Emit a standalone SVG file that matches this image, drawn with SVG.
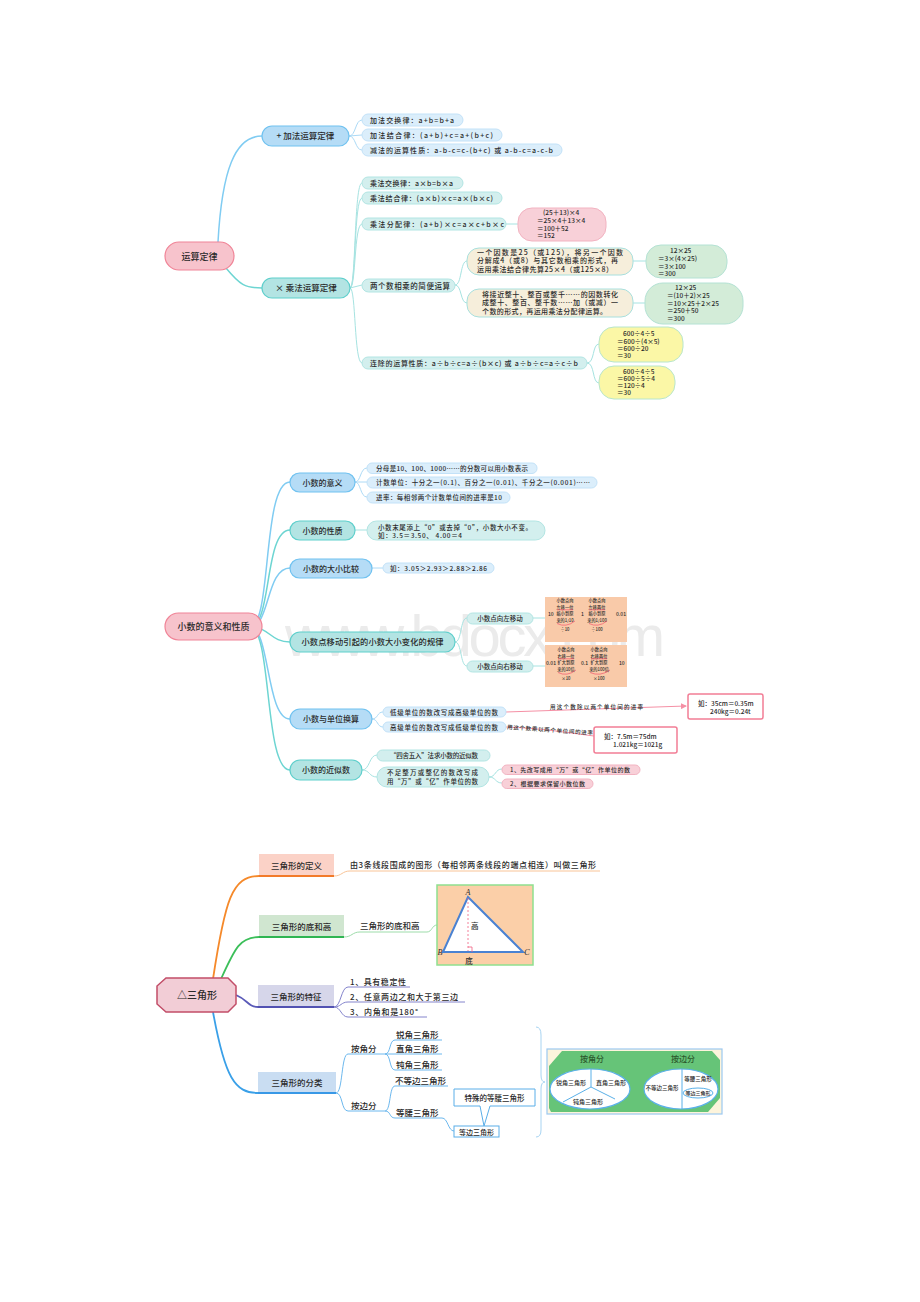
<svg xmlns="http://www.w3.org/2000/svg" width="920" height="1302" viewBox="0 0 920 1302">
<defs>
<style>
text{font-family:"Noto Sans CJK SC","Noto Sans",sans-serif;fill:#2a2a2a;font-weight:500}
.c{text-anchor:middle}
.bn{fill:#b5dcf6;stroke:#70c2f0;stroke-width:1.2}
.tn{fill:#b3e4e3;stroke:#5fcfcc;stroke-width:1.2}
.rn{fill:#f7c3cc;stroke:#f08497;stroke-width:1.2}
.bl{fill:#dbeefb;stroke:#c3e2f8;stroke-width:1}
.tl{fill:#d3efee;stroke:#b2e5e3;stroke-width:1}
.pk{fill:#f8d0d8;stroke:#f2b3c1;stroke-width:1}
.bg{fill:#f6eedb;stroke:#a8e0de;stroke-width:1}
.gr{fill:#d3ecd8;stroke:#b4e2d4;stroke-width:1}
.yl{fill:#fbf7a6;stroke:#b8e6cc;stroke-width:1}
.or{fill:#f9caa9}
.rb{fill:#fff;stroke:#f27d95;stroke-width:1.5}
.lb{fill:none;stroke:#80ccf2;stroke-width:1.5}
.lt{fill:none;stroke:#6dd5d2;stroke-width:1.5}
.lbl{fill:none;stroke:#acdaf6;stroke-width:1}
.ltl{fill:none;stroke:#a6e3e1;stroke-width:1}
.lr{fill:none;stroke:#f590a5;stroke-width:1}
.lc{fill:none;stroke:#6cb8ee;stroke-width:1}
.lp{fill:none;stroke:#8484cc;stroke-width:1}
.s{font-size:7px}
.xs{font-size:6.5px}
.tiny{font-size:4.2px;text-anchor:middle}
.red{fill:none;stroke:#f04060;stroke-width:0.6}
</style>
<marker id="ar" markerWidth="6" markerHeight="6" refX="5" refY="3" orient="auto" markerUnits="userSpaceOnUse">
<path d="M0,0 L6,3 L0,6 z" fill="#f590a5"/>
</marker>
</defs>
<rect width="920" height="1302" fill="#fff"/>
<text x="285" y="656" font-size="58" textLength="380" style="font-family:'Liberation Sans',sans-serif;fill:#ebebeb;font-weight:400">www.bdocx.com</text>

<g id="connectors">
<path class="lb" d="M 218 242 C 222 170, 235 136, 262 136"/>
<path class="lt" d="M 226 268 C 240 285, 245 288, 262 288"/>
<path class="lbl" d="M 349 136 C 356 136, 355 120, 362 120"/>
<path class="lbl" d="M 349 136 L 362 135"/>
<path class="lbl" d="M 349 136 C 356 136, 355 150, 362 150"/>
<path class="ltl" d="M 350 288 C 356 288, 354 183, 362 183"/>
<path class="ltl" d="M 350 288 C 356 288, 354 198, 362 198"/>
<path class="ltl" d="M 350 288 C 356 288, 354 224, 362 224"/>
<path class="ltl" d="M 350 288 L 362 285"/>
<path class="ltl" d="M 350 288 C 356 288, 354 363, 362 363"/>
<path class="ltl" d="M 506 224 L 518 224"/>
<path class="ltl" d="M 455 285 C 462 285, 460 261, 467 261"/>
<path class="ltl" d="M 455 285 C 462 285, 460 303, 467 303"/>
<path class="ltl" d="M 633 261 L 646 261"/>
<path class="ltl" d="M 633 303 L 645 303"/>
<path class="ltl" d="M 587 363 C 595 363, 592 344, 599 344"/>
<path class="ltl" d="M 587 363 C 595 363, 592 383, 599 383"/>
<path class="lb" d="M 250 627 C 272 627, 262 482, 290 482"/>
<path class="lt" d="M 250 627 C 272 627, 264 530, 290 530"/>
<path class="lb" d="M 250 627 C 270 627, 266 568, 290 568"/>
<path class="lt" d="M 250 627 C 270 627, 270 642, 290 642"/>
<path class="lb" d="M 250 627 C 270 627, 266 719, 290 719"/>
<path class="lt" d="M 250 627 C 272 627, 264 770, 290 770"/>
<path class="lbl" d="M 355 482 C 361 482, 360 468, 367 468"/>
<path class="lbl" d="M 355 482 L 367 482"/>
<path class="lbl" d="M 355 482 C 361 482, 360 497, 367 497"/>
<path class="ltl" d="M 355 530 L 367 530"/>
<path class="lbl" d="M 372 568 L 383 568"/>
<path class="ltl" d="M 455 642 C 462 642, 460 618, 467 618"/>
<path class="ltl" d="M 455 642 C 462 642, 460 666, 467 666"/>
<path class="ltl" d="M 533 618 L 545 618"/>
<path class="ltl" d="M 533 666 L 545 666"/>
<path class="lbl" d="M 372 719 C 378 719, 377 712, 383 712"/>
<path class="lbl" d="M 372 719 C 378 719, 377 727, 383 727"/>
<path class="ltl" d="M 362 770 C 370 770, 369 755, 377 755"/>
<path class="ltl" d="M 362 770 C 370 770, 369 777, 377 777"/>
<path class="ltl" d="M 489 777 C 496 777, 495 769, 502 769"/>
<path class="ltl" d="M 489 777 C 496 777, 495 783, 502 783"/>
<path class="lr" d="M 506 712 L 686 706" marker-end="url(#ar)"/>
<path class="lr" d="M 506 727 C 540 728, 570 733, 594 736"/>
<path fill="none" stroke="#f5892a" stroke-width="1.8" d="M 213 979 C 225 900, 232 876, 259 876"/>
<path fill="none" stroke="#3cbf5a" stroke-width="1.8" d="M 221 979 C 235 948, 240 937, 259 937"/>
<path fill="none" stroke="#5a5ab8" stroke-width="1.8" d="M 236 995 C 248 1000, 248 1007, 258 1007"/>
<path fill="none" stroke="#3aa0e8" stroke-width="1.8" d="M 213 1012 C 225 1078, 235 1093, 258 1093"/>
<path fill="none" stroke="#f9c497" stroke-width="1" d="M 334 876 C 342 876, 342 871, 350 871 L 600 871"/>
<path fill="none" stroke="#9ddcaa" stroke-width="1" d="M 344 937 C 352 937, 352 932, 360 932 L 427 932 C 432 932, 432 925, 437 925"/>
<path class="lp" d="M 334 1007 C 341 1007, 341 987, 348 987 L 410 987"/>
<path class="lp" d="M 334 1007 C 341 1007, 341 1002, 348 1002 L 465 1002"/>
<path class="lp" d="M 334 1007 C 341 1007, 341 1017, 348 1017 L 427 1017"/>
<path class="lc" d="M 336 1093 C 343 1093, 341 1054, 348 1054 L 385 1054"/>
<path class="lc" d="M 336 1093 C 343 1093, 341 1111, 348 1111 L 385 1111"/>
<path class="lc" d="M 385 1054 C 391 1054, 389 1040, 395 1040 L 442 1040"/>
<path class="lc" d="M 385 1054 L 442 1054"/>
<path class="lc" d="M 385 1054 C 391 1054, 389 1070, 395 1070 L 442 1070"/>
<path class="lc" d="M 385 1111 C 391 1111, 389 1086, 395 1086 L 448 1086"/>
<path class="lc" d="M 385 1111 C 391 1111, 389 1118, 395 1118 L 442 1118"/>
<path class="lc" d="M 442 1118 C 448 1118, 448 1131, 454 1131"/>
<path fill="none" stroke="#a8d4f2" stroke-width="1" d="M 536 1027 Q 541 1027 541 1035 L 541 1075 Q 541 1082 545 1082 Q 541 1082 541 1089 L 541 1130 Q 541 1137 536 1137"/>
</g>

<g id="s1-root"><rect class="rn" x="165" y="242" width="69" height="28" rx="14"/><text class="c" x="199.5" y="259.5" font-size="9">运算定律</text></g>
<g id="s1-add"><rect class="bn" x="262" y="126" width="87" height="20" rx="10"/><text class="c" x="305.5" y="139" font-size="8.5">+ 加法运算定律</text></g>
<g id="s1-mul"><rect class="tn" x="262" y="278" width="88" height="20" rx="10"/><text class="c" x="306" y="291" font-size="8.5">× 乘法运算定律</text></g>

<g id="s1-add1"><rect class="bl" x="362" y="114" width="101" height="12" rx="6"/><text class="s" x="370" y="122.5" textLength="84">加法交换律：a+b=b+a</text></g>
<g id="s1-add2"><rect class="bl" x="362" y="129" width="140" height="12" rx="6"/><text class="s" x="370" y="137.5" textLength="123">加法结合律：(a+b)+c=a+(b+c)</text></g>
<g id="s1-add3"><rect class="bl" x="362" y="144" width="200" height="12" rx="6"/><text class="s" x="370" y="152.5" textLength="183">减法的运算性质：a-b-c=c-(b+c) 或 a-b-c=a-c-b</text></g>

<g id="s1-mul1"><rect class="tl" x="362" y="177" width="101" height="12" rx="6"/><text class="s" x="370" y="185.5" textLength="83">乘法交换律：a×b=b×a</text></g>
<g id="s1-mul2"><rect class="tl" x="362" y="192" width="140" height="12" rx="6"/><text class="s" x="370" y="200.5" textLength="123">乘法结合律：(a×b)×c=a×(b×c)</text></g>
<g id="s1-mul3"><rect class="tl" x="362" y="218" width="144" height="12" rx="6"/><text class="s" x="370" y="226.5" textLength="134">乘法分配律：(a+b)×c=a×c+b×c</text></g>
<g id="s1-mul4"><rect class="tl" x="362" y="279" width="93" height="13" rx="6.5"/><text x="370" y="288.5" font-size="7.5" textLength="80">两个数相乘的简便运算</text></g>
<g id="s1-mul5"><rect class="tl" x="362" y="357" width="225" height="12" rx="6"/><text class="s" x="370" y="365.5" textLength="208">连除的运算性质：a÷b÷c=a÷(b×c) 或 a÷b÷c=a÷c÷b</text></g>

<g id="s1-ex1"><rect class="pk" x="518" y="208" width="88" height="33" rx="14"/>
<text class="xs" x="543" y="214.5">(25＋13)×4</text>
<text class="xs" x="537" y="222.5">＝25×4＋13×4</text>
<text class="xs" x="537" y="230.5">＝100＋52</text>
<text class="xs" x="537" y="238">＝152</text></g>

<g id="s1-tip1"><rect class="bg" x="467" y="248" width="166" height="27" rx="12"/>
<text class="s" x="477" y="254.5" textLength="146">一个因数是25（或125），将另一个因数</text>
<text class="s" x="477" y="263" textLength="141">分解成4（或8）与其它数相乘的形式，再</text>
<text class="s" x="477" y="271.5" textLength="136">运用乘法结合律先算25×4（或125×8）</text></g>
<g id="s1-ex2"><rect class="gr" x="646" y="245" width="81" height="33" rx="15"/>
<text class="xs" x="670" y="252.5">12×25</text>
<text class="xs" x="658" y="260.5">＝3×(4×25)</text>
<text class="xs" x="658" y="268.5">＝3×100</text>
<text class="xs" x="658" y="276">＝300</text></g>

<g id="s1-tip2"><rect class="bg" x="467" y="289" width="166" height="28" rx="12"/>
<text class="s" x="482" y="296.5" textLength="136">将接近整十、整百或整千……的因数转化</text>
<text class="s" x="482" y="305" textLength="136">成整十、整百、整千数……加（或减）一</text>
<text class="s" x="482" y="313.5" textLength="125">个数的形式，再运用乘法分配律运算。</text></g>
<g id="s1-ex3"><rect class="gr" x="645" y="283" width="98" height="41" rx="18"/>
<text class="xs" x="675" y="290">12×25</text>
<text class="xs" x="667" y="297.5">＝(10＋2)×25</text>
<text class="xs" x="667" y="305.5">＝10×25＋2×25</text>
<text class="xs" x="667" y="313">＝250＋50</text>
<text class="xs" x="667" y="320.5">＝300</text></g>

<g id="s1-ex4"><rect class="yl" x="599" y="327" width="84" height="35" rx="15"/>
<text class="xs" x="623" y="336">600÷4÷5</text>
<text class="xs" x="617" y="343.5">＝600÷(4×5)</text>
<text class="xs" x="617" y="350.5">＝600÷20</text>
<text class="xs" x="617" y="358">＝30</text></g>
<g id="s1-ex5"><rect class="yl" x="599" y="366" width="76" height="33" rx="15"/>
<text class="xs" x="623" y="373.5">600÷4÷5</text>
<text class="xs" x="617" y="380.5">＝600÷5÷4</text>
<text class="xs" x="617" y="388">＝120÷4</text>
<text class="xs" x="617" y="395">＝30</text></g>

<g id="s2-root"><rect class="rn" x="165" y="613" width="97" height="27" rx="13.5"/><text class="c" x="213.5" y="630" font-size="9">小数的意义和性质</text></g>
<g id="s2-mean"><rect class="bn" x="290" y="473" width="65" height="19" rx="9.5"/><text class="c" x="322.5" y="485.5" font-size="8">小数的意义</text></g>
<g id="s2-prop"><rect class="tn" x="290" y="521" width="65" height="19" rx="9.5"/><text class="c" x="322.5" y="533.5" font-size="8">小数的性质</text></g>
<g id="s2-cmp"><rect class="bn" x="290" y="559" width="82" height="19" rx="9.5"/><text class="c" x="331" y="571.5" font-size="8">小数的大小比较</text></g>
<g id="s2-move"><rect class="tn" x="290" y="632" width="165" height="20" rx="10"/><text class="c" x="372.5" y="645" font-size="8.2" textLength="142">小数点移动引起的小数大小变化的规律</text></g>
<g id="s2-unit"><rect class="bn" x="290" y="709" width="82" height="20" rx="10"/><text class="c" x="331" y="722" font-size="8">小数与单位换算</text></g>
<g id="s2-approx"><rect class="tn" x="290" y="760" width="72" height="20" rx="10"/><text class="c" x="326" y="773" font-size="8">小数的近似数</text></g>

<g id="s2-mean1"><rect class="bl" x="367" y="463" width="170" height="10.5" rx="5"/><text class="xs" x="376" y="470.5" textLength="152">分母是10、100、1000……的分数可以用小数表示</text></g>
<g id="s2-mean2"><rect class="bl" x="367" y="477" width="230" height="11" rx="5.5"/><text class="xs" x="376" y="484.8" textLength="214">计数单位：十分之一(0.1)、百分之一(0.01)、千分之一(0.001)……</text></g>
<g id="s2-mean3"><rect class="bl" x="367" y="492" width="143" height="11" rx="5.5"/><text class="xs" x="376" y="499.8" textLength="126">进率：每相邻两个计数单位间的进率是10</text></g>
<g id="s2-prop1"><rect class="tl" x="367" y="521" width="178" height="19" rx="9.5"/>
<text class="xs" x="378" y="529.5" textLength="154">小数末尾添上“0”或去掉“0”，小数大小不变。</text>
<text class="xs" x="378" y="537.5" textLength="84">如：3.5＝3.50、 4.00＝4</text></g>
<g id="s2-cmp1"><rect class="bl" x="383" y="563" width="111" height="10" rx="5"/><text class="xs" x="390" y="570.5" textLength="97">如：3.05＞2.93＞2.88＞2.86</text></g>

<g id="s2-left"><rect class="tl" x="467" y="613" width="66" height="11" rx="5.5"/><text class="xs c" x="500" y="620.8">小数点向左移动</text></g>
<g id="s2-right"><rect class="tl" x="467" y="661" width="66" height="11" rx="5.5"/><text class="xs c" x="500" y="668.8">小数点向右移动</text></g>

<g id="s2-leftbox"><rect class="or" x="545" y="597" width="82" height="45"/>
<text x="548" y="616" font-size="5">10</text>
<text class="tiny" x="565" y="602">小数点向</text>
<text class="tiny" x="565" y="608.5">左移一位</text>
<text class="tiny" x="565" y="615">缩小到原</text>
<text class="tiny" x="565" y="621.5">来的1/10</text>
<text class="tiny" x="565" y="631" font-size="4.5">÷10</text>
<text x="581" y="616" font-size="5">1</text>
<text class="tiny" x="597" y="602">小数点向</text>
<text class="tiny" x="597" y="608.5">左移两位</text>
<text class="tiny" x="597" y="615">缩小到原</text>
<text class="tiny" x="597" y="621.5">来的1/100</text>
<text class="tiny" x="597" y="631">÷100</text>
<text x="616" y="616" font-size="5">0.01</text>
<path class="red" d="M 557 609.8 L 573 609.8 M 589 609.8 L 605 609.8 M 557 623.5 Q 566 628 575 621 M 589 623.5 Q 598 628 607 621"/>
</g>
<g id="s2-rightbox"><rect class="or" x="545" y="645" width="82" height="42"/>
<text x="546" y="665" font-size="5">0.01</text>
<text class="tiny" x="566" y="651">小数点向</text>
<text class="tiny" x="566" y="657.5">右移一位</text>
<text class="tiny" x="566" y="664">扩大到原</text>
<text class="tiny" x="566" y="670.5">来的10倍</text>
<text class="tiny" x="566" y="680">×10</text>
<text x="581" y="665" font-size="5">0.1</text>
<text class="tiny" x="599" y="651">小数点向</text>
<text class="tiny" x="599" y="657.5">右移两位</text>
<text class="tiny" x="599" y="664">扩大到原</text>
<text class="tiny" x="599" y="670.5">来的100倍</text>
<text class="tiny" x="599" y="680">×100</text>
<text x="619" y="665" font-size="5">10</text>
<path class="red" d="M 558 658.8 L 574 658.8 M 591 658.8 L 607 658.8 M 558 672.5 Q 567 677 576 670 M 590 672.5 Q 600 677 610 670"/>
</g>

<g id="s2-unit1"><rect class="bl" x="383" y="707" width="123" height="10" rx="5"/><text class="xs" x="390" y="714.5" textLength="108">低级单位的数改写成高级单位的数</text></g>
<g id="s2-unit2"><rect class="bl" x="383" y="722" width="123" height="10" rx="5"/><text class="xs" x="390" y="729.5" textLength="108">高级单位的数改写成低级单位的数</text></g>
<text id="s2-lab1" x="550" y="709" font-size="5.5" textLength="93">用这个数除以两个单位间的进率</text>
<text id="s2-lab2" x="507" y="729" font-size="5.5" textLength="86" transform="rotate(4 507 729)">用这个数乘以两个单位间的进率</text>
<g id="s2-ubox1"><rect class="rb" x="688" y="694" width="75" height="25" rx="2"/>
<text class="xs" x="698" y="705.5">如：35cm＝0.35m</text>
<text class="xs" x="710" y="713.5">240kg＝0.24t</text></g>
<g id="s2-ubox2"><rect class="rb" x="594" y="727" width="83" height="26" rx="2"/>
<text class="xs" x="604" y="738.5">如：7.5m＝75dm</text>
<text class="xs" x="613" y="746.5">1.021kg＝1021g</text></g>

<g id="s2-ap1"><rect class="tl" x="377" y="750" width="113" height="11" rx="5.5"/><text class="xs" x="390" y="758" textLength="88">“四舍五入”法求小数的近似数</text></g>
<g id="s2-ap2"><rect class="tl" x="377" y="767" width="112" height="20" rx="10"/>
<text class="xs" x="387" y="775" textLength="91">不足整万或整亿的数改写成</text>
<text class="xs" x="387" y="783.5" textLength="91">用“万”或“亿”作单位的数</text></g>
<g id="s2-ap3"><rect class="pk" x="502" y="765" width="138" height="9.5" rx="4.75"/><text x="510" y="772" font-size="6" textLength="120">1、先改写成用“万”或“亿”作单位的数</text></g>
<g id="s2-ap4"><rect class="pk" x="502" y="779" width="91" height="9.5" rx="4.75"/><text x="510" y="786" font-size="6" textLength="75">2、根据要求保留小数位数</text></g>

<g id="s3-root"><polygon points="166,978 228,978 236,986 236,1004 228,1012 166,1012 157,1004 157,986" fill="#f2cdd6" stroke="#c24d68" stroke-width="1.5"/><text class="c" x="197" y="999" font-size="10">△三角形</text></g>
<g id="s3-def"><rect x="259" y="854" width="75" height="22" fill="#fbd2c7"/><line x1="259" y1="876" x2="334" y2="876" stroke="#f27a2a" stroke-width="2"/><text class="c" x="296.5" y="869" font-size="8.5">三角形的定义</text></g>
<text id="s3-deftext" x="350" y="868" font-size="8" textLength="246">由3条线段围成的图形（每相邻两条线段的端点相连）叫做三角形</text>
<g id="s3-base"><rect x="259" y="915" width="85" height="22" fill="#d0e6d0"/><line x1="259" y1="937" x2="344" y2="937" stroke="#2fb552" stroke-width="2"/><text class="c" x="301.5" y="930" font-size="8.5">三角形的底和高</text></g>
<text id="s3-basetext" x="360" y="929" font-size="8.5">三角形的底和高</text>
<g id="s3-fig"><rect x="437" y="885" width="96" height="80" fill="#fbcfa8" stroke="#8fe08f" stroke-width="1.5"/>
<polygon points="468,897 443,952 523,952" fill="#fff" stroke="#4a82d2" stroke-width="2"/>
<line x1="468" y1="898" x2="468" y2="951" stroke="#f06080" stroke-width="0.8" stroke-dasharray="2,2"/>
<path d="M 468 947 L 472 947 L 472 952" fill="none" stroke="#f06080" stroke-width="0.8"/>
<text class="c" x="468" y="895" font-size="8" font-style="italic" style="font-family:'Liberation Serif',serif">A</text>
<text class="c" x="440" y="955" font-size="8" font-style="italic" style="font-family:'Liberation Serif',serif">B</text>
<text class="c" x="527" y="955" font-size="8" font-style="italic" style="font-family:'Liberation Serif',serif">C</text>
<text x="471" y="929" font-size="7.5">高</text>
<text class="c" x="469" y="964" font-size="7.5">底</text></g>
<g id="s3-feat"><rect x="258" y="985" width="76" height="22" fill="#d6d6ea"/><line x1="258" y1="1007" x2="334" y2="1007" stroke="#5252b2" stroke-width="2"/><text class="c" x="296" y="1000" font-size="8.5">三角形的特征</text></g>
<text id="s3-f1" x="350" y="984.5" font-size="8" textLength="56">1、具有稳定性</text>
<text id="s3-f2" x="350" y="999.5" font-size="8" textLength="108">2、任意两边之和大于第三边</text>
<text id="s3-f3" x="350" y="1014.5" font-size="8" textLength="68">3、内角和是180°</text>
<g id="s3-class"><rect x="258" y="1072" width="78" height="21" fill="#c9ddf2"/><line x1="258" y1="1093" x2="336" y2="1093" stroke="#3898e6" stroke-width="2"/><text class="c" x="297" y="1086" font-size="8.5">三角形的分类</text></g>
<text id="s3-byangle" x="351" y="1052" font-size="8.5">按角分</text>
<text id="s3-byside" x="351" y="1109" font-size="8.5">按边分</text>
<text id="s3-a1" x="396" y="1037.5" font-size="8.5">锐角三角形</text>
<text id="s3-a2" x="396" y="1051.5" font-size="8.5">直角三角形</text>
<text id="s3-a3" x="396" y="1067.5" font-size="8.5">钝角三角形</text>
<text id="s3-s1" x="395" y="1083.5" font-size="8.5">不等边三角形</text>
<text id="s3-s2" x="396" y="1115.5" font-size="8.5">等腰三角形</text>
<g id="s3-eq"><rect x="454" y="1126" width="45" height="11" fill="#fff" stroke="#5aaee8" stroke-width="1"/><text class="c" x="476.5" y="1134.5" font-size="7">等边三角形</text></g>
<g id="s3-callout"><path d="M 454 1089 H 535 V 1106 H 490 L 484 1126 L 480 1106 H 454 Z" fill="#fff" stroke="#5aaee8" stroke-width="1"/><text class="c" x="494.5" y="1100.5" font-size="7.5">特殊的等腰三角形</text></g>
<g id="s3-chart">
<rect x="547" y="1049" width="175" height="65" fill="#fdf4dc" stroke="#9cc8f0" stroke-width="1.2"/>
<path d="M 562 1051 H 712 L 720 1060 V 1098 L 708 1112 H 551 L 549 1108 V 1066 Z" fill="#66c478"/>
<text class="c" x="592" y="1062" font-size="8" font-weight="bold" style="fill:#2d5a2d">按角分</text>
<text class="c" x="683" y="1062" font-size="8" font-weight="bold" style="fill:#2d5a2d">按边分</text>
<ellipse cx="590" cy="1089" rx="40" ry="20" fill="#fff" stroke="#5ab0e8" stroke-width="1.2"/>
<path d="M 591 1069 L 591 1087 L 563 1102 M 591 1087 L 615 1099" fill="none" stroke="#5ab0e8" stroke-width="1"/>
<ellipse cx="681" cy="1089" rx="37" ry="20" fill="#fff" stroke="#5ab0e8" stroke-width="1.2"/>
<line x1="682" y1="1069" x2="682" y2="1109" stroke="#5ab0e8" stroke-width="1"/>
<ellipse cx="698" cy="1093" rx="15" ry="5" fill="#fff" stroke="#5ab0e8" stroke-width="1"/>
<text class="c" x="571" y="1085" font-size="6">锐角三角形</text>
<text class="c" x="611" y="1085" font-size="6">直角三角形</text>
<text class="c" x="588" y="1104" font-size="6">钝角三角形</text>
<text class="c" x="662" y="1090" font-size="5.5">不等边三角形</text>
<text class="c" x="698" y="1081" font-size="5.5">等腰三角形</text>
<text class="c" x="698" y="1095" font-size="5">等边三角形</text>
</g>
</svg>
